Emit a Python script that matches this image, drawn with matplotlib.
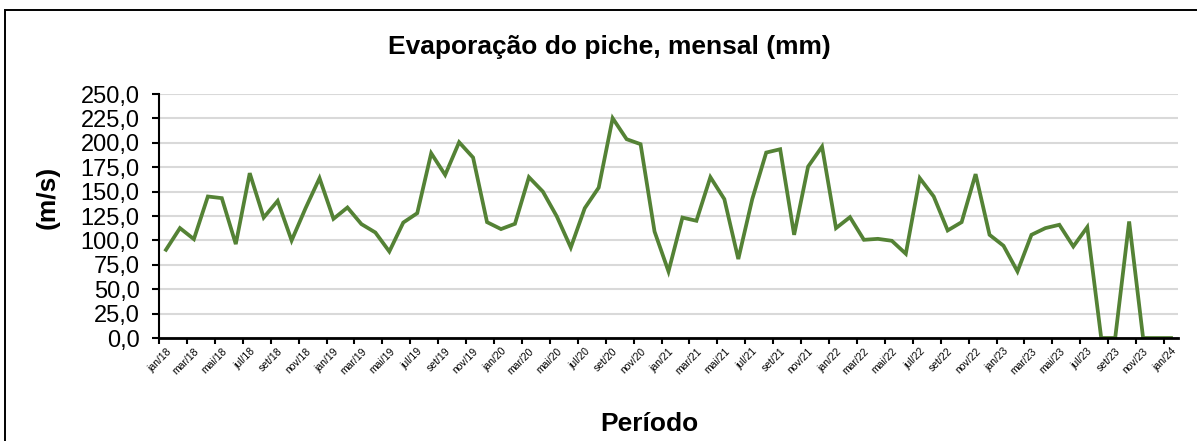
import matplotlib.pyplot as plt
from matplotlib.patches import Rectangle
from matplotlib.ticker import FuncFormatter

plt.rcParams['font.family'] = ['Liberation Sans', 'DejaVu Sans']

meses = ['jan', 'fev', 'mar', 'abr', 'mai', 'jun', 'jul', 'ago', 'set', 'out', 'nov', 'dez']
anos = ['18', '19', '20', '21', '22', '23']
periodos = [m + '/' + a for a in anos for m in meses] + ['jan/24']

# evaporação mensal (mm)
evaporacao = [
    90.4, 112.6, 101.3, 145.0, 143.3, 96.2, 168.9, 123.4, 140.5, 99.9, 133.0, 163.8,
    122.1, 133.7, 116.7, 108.1, 88.6, 118.3, 127.9, 189.3, 167.1, 200.6, 184.9, 118.7,
    111.6, 117.0, 164.8, 150.0, 124.5, 92.7, 133.0, 154.1, 225.2, 203.7, 198.6, 109.1,
    68.2, 123.4, 120.1, 164.8, 142.3, 80.9, 142.3, 190.0, 193.4, 105.7, 175.6, 196.1,
    112.6, 123.8, 100.6, 101.6, 99.6, 86.3, 163.8, 145.0, 110.2, 118.7, 167.9, 105.7,
    94.5, 68.2, 105.7, 112.6, 116.0, 93.8, 113.6, 0.0, 0.0, 119.4, 0.0, 0.0,
    0.0,
]

y_ticks = [0, 25, 50, 75, 100, 125, 150, 175, 200, 225, 250]

W, H = 1197, 441
fig = plt.figure(figsize=(W / 100, H / 100), dpi=100)
fig.patch.set_facecolor('white')

# moldura do gráfico (só esquerda e topo aparecem na imagem)
fig.patches.append(Rectangle((5 / W, -0.05), 1.1, 1 - 10 / H + 0.05,
                             transform=fig.transFigure, fill=False,
                             edgecolor='black', linewidth=1.4))

ax = fig.add_axes([159 / W, 1 - 338 / H, (1178 - 159) / W, (338 - 94) / H])
x = list(range(len(periodos)))
ax.plot(x, evaporacao, color='#548235', linewidth=2.7, solid_joinstyle='miter', zorder=3)

ax.set_xlim(-0.5, len(periodos) - 0.5)
ax.set_ylim(0, 250)
ax.set_yticks(y_ticks)
ax.yaxis.set_major_formatter(FuncFormatter(lambda v, p: f'{v:.1f}'.replace('.', ',')))
ax.tick_params(axis='y', labelsize=17, length=5, width=1.5, pad=9)

# rótulos a cada 2 meses, marcas entre categorias
ax.set_xticks(x[::2])
ax.set_xticklabels(periodos[::2], rotation=45, ha='right', rotation_mode='anchor', fontsize=7.5)
ax.tick_params(axis='x', which='major', length=0, pad=6)
ax.set_xticks([i - 0.5 for i in x[::2]], minor=True)
ax.tick_params(axis='x', which='minor', length=4, width=1.5)

ax.grid(axis='y', color='#d9d9d9', linewidth=1.5)
ax.set_axisbelow(True)
for s in ['top', 'right']:
    ax.spines[s].set_visible(False)
ax.spines['left'].set_linewidth(1.5)
ax.spines['bottom'].set_linewidth(2)
ax.spines['bottom'].set_zorder(4)

fig.text(609 / W, 1 - 47 / H, 'Evaporação do piche, mensal (mm)', ha='center', va='center',
         fontsize=19, fontweight='bold')
fig.text(48 / W, 1 - 197 / H, '(m/s)', ha='center', va='center', rotation=90,
         fontsize=19, fontweight='bold')
fig.text(649 / W, 1 - 424 / H, 'Período', ha='center', va='center',
         fontsize=19, fontweight='bold')

fig.savefig('out.png', dpi=100)
